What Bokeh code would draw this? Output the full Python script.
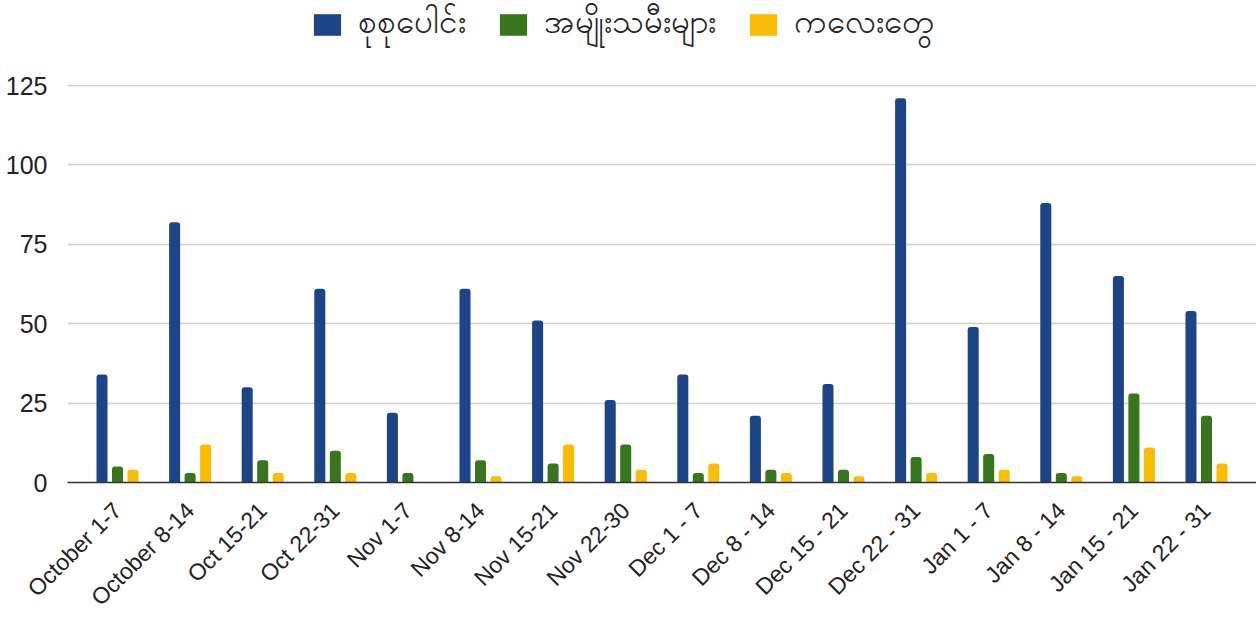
import math
from bokeh.plotting import figure
from bokeh.models import (FactorRange, Range1d, FixedTicker, Legend, LegendItem,
                          ColumnDataSource)
from bokeh.transform import dodge
from bokeh.embed import file_html
from bokeh.resources import INLINE

categories = ["October 1-7", "October 8-14", "Oct 15-21", "Oct 22-31", "Nov 1-7",
              "Nov 8-14", "Nov 15-21", "Nov 22-30", "Dec 1 - 7", "Dec 8 - 14",
              "Dec 15 - 21", "Dec 22 - 31", "Jan 1 - 7", "Jan 8 - 14",
              "Jan 15 - 21", "Jan 22 - 31"]
total = [34, 82, 30, 61, 22, 61, 51, 26, 34, 21, 31, 121, 49, 88, 65, 54]
women = [5, 3, 7, 10, 3, 7, 6, 12, 3, 4, 4, 8, 9, 3, 28, 21]
children = [4, 12, 3, 3, 0, 2, 12, 4, 6, 3, 2, 3, 4, 2, 11, 6]
series_names = ["စုစုပေါင်း", "အမျိုးသမီးများ", "ကလေးတွေ"]
series_colors = ["#1c4587", "#38761d", "#fbbc04"]
y_ticks = [0, 25, 50, 75, 100, 125]

src = ColumnDataSource(dict(cat=categories, total=total, women=women, children=children))

p = figure(width=1256, height=622, output_backend="svg", toolbar_location=None,
           title=None,
           x_range=FactorRange(factors=categories, range_padding=0.0236),
           y_range=Range1d(0, 151.8),
           min_border_left=67, min_border_right=0, min_border_top=0,
           min_border_bottom=140)
p.outline_line_color = None
p.background_fill_color = "white"

offs = [-0.2135, 0.0, 0.2135]
cols = ["total", "women", "children"]
renderers = []
for o, c, col in zip(offs, cols, series_colors):
    r = p.vbar(x=dodge("cat", o, range=p.x_range), top=c, bottom=0, width=0.152,
               source=src, fill_color=col, line_color=None,
               border_radius=(3, 3, 0, 0))
    renderers.append(r)

p.xgrid.grid_line_color = None
p.ygrid.grid_line_color = "#cfcfcf"
p.ygrid.grid_line_width = 1.6
p.ygrid.ticker = FixedTicker(ticks=y_ticks)

p.yaxis.ticker = FixedTicker(ticks=y_ticks)
p.yaxis.axis_line_color = None
p.yaxis.major_tick_line_color = None
p.yaxis.minor_tick_line_color = None
p.yaxis.major_label_standoff = 14
p.yaxis.major_label_text_font = "Liberation Sans"
p.yaxis.major_label_text_font_size = "25px"
p.yaxis.major_label_text_color = "#222222"

p.xaxis.axis_line_color = "#333333"
p.xaxis.axis_line_width = 1.6
p.xaxis.major_tick_line_color = None
p.xaxis.minor_tick_line_color = None
p.xaxis.major_label_orientation = math.pi / 4
p.xaxis.major_label_standoff = 18
p.xaxis.major_label_text_font = "Liberation Sans"
p.xaxis.major_label_text_font_size = "23px"
p.xaxis.major_label_text_color = "#222222"

legend = Legend(items=[LegendItem(label=n, renderers=[r]) for n, r in zip(series_names, renderers)],
                orientation="horizontal", location=(243, 433),
                padding=0, margin=0, spacing=30, label_standoff=14,
                glyph_width=34, glyph_height=27, label_height=27,
                label_text_font="Liberation Sans", label_text_font_size="33px",
                label_text_color="#222222",
                border_line_color=None, background_fill_alpha=0)
p.add_layout(legend, "center")

open("out.html", "w").write(file_html(p, INLINE))
